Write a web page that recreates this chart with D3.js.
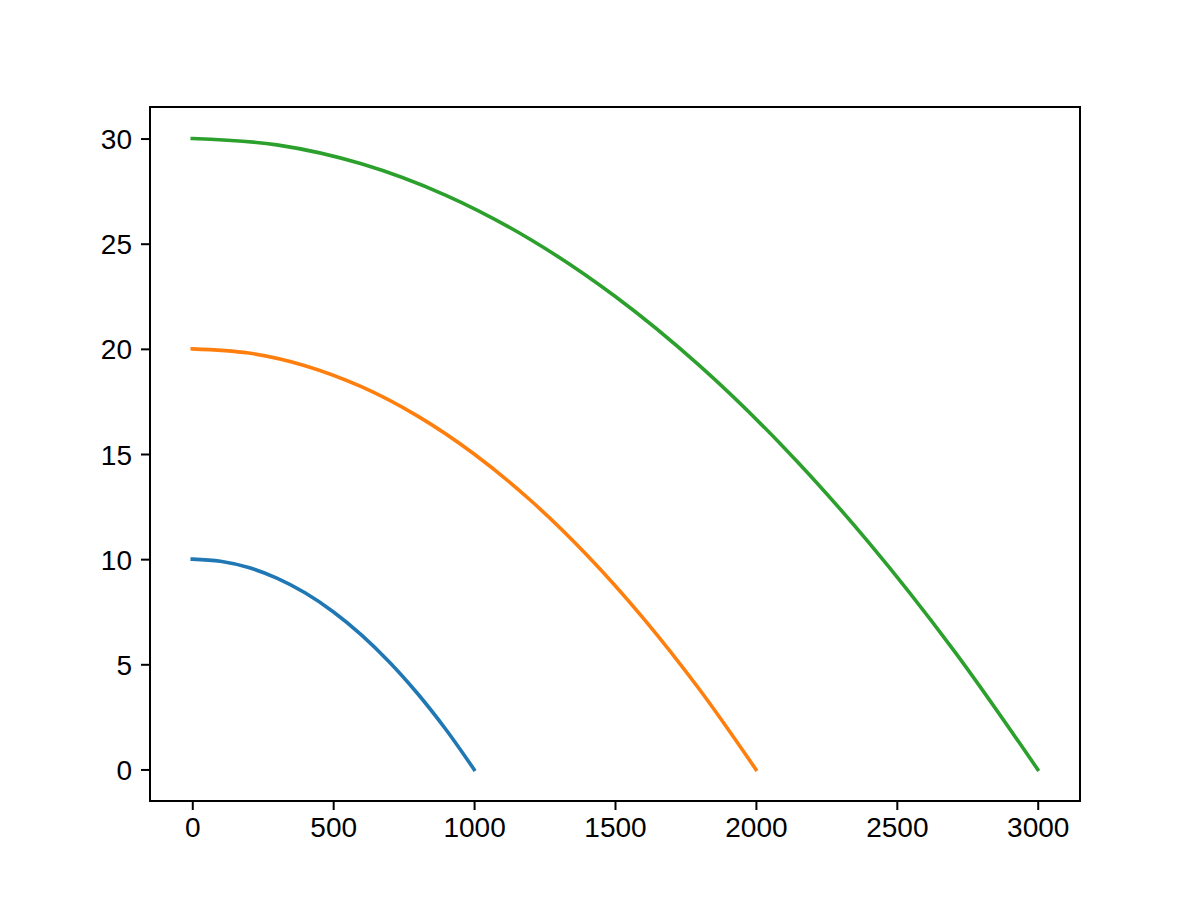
<!DOCTYPE html>
<html>
<head>
<meta charset="utf-8">
<script src="https://cdn.jsdelivr.net/npm/d3@7"></script>
<style>
  html, body { margin: 0; padding: 0; background: #fff; }
  svg { display: block; }
  .tick text { font-family: "Liberation Sans", Arial, sans-serif; }
</style>
</head>
<body>
<svg id="chart" width="1200" height="900"></svg>
<script>
// ---- data ----
const xBlue   = [0, 100, 200, 300, 400, 500, 600, 700, 800, 900, 1000];
const yBlue   = [10, 9.9, 9.6, 9.1, 8.4, 7.5, 6.4, 5.1, 3.6, 1.9, 0];
const xOrange = [0, 200, 400, 600, 800, 1000, 1200, 1400, 1600, 1800, 2000];
const yOrange = [20, 19.8, 19.2, 18.2, 16.8, 15.0, 12.8, 10.2, 7.2, 3.8, 0];
const xGreen  = [0, 300, 600, 900, 1200, 1500, 1800, 2100, 2400, 2700, 3000];
const yGreen  = [30, 29.7, 28.8, 27.3, 25.2, 22.5, 19.2, 15.3, 10.8, 5.7, 0];
const seriesColors = ["#1f77b4", "#ff7f0e", "#2ca02c"];
const xTicks = [0, 500, 1000, 1500, 2000, 2500, 3000];
const yTicks = [0, 5, 10, 15, 20, 25, 30];

const series = [
  { xs: xBlue, ys: yBlue, color: seriesColors[0] },
  { xs: xOrange, ys: yOrange, color: seriesColors[1] },
  { xs: xGreen, ys: yGreen, color: seriesColors[2] }
];

const svg = d3.select("#chart");
const mLeft = 150, mRight = 1080, mTop = 107, mBottom = 801;

const x = d3.scaleLinear().domain([-150, 3150]).range([mLeft, mRight]);
const y = d3.scaleLinear().domain([-1.5, 31.5]).range([mBottom, mTop]);

const line = d3.line()
  .x(d => x(d[0]))
  .y(d => y(d[1]))
  .curve(d3.curveCatmullRom.alpha(0.5));

const plot = svg.append("g");
series.forEach(s => {
  const pts = s.xs.map((v, i) => [v, s.ys[i]]);
  plot.append("path")
    .datum(pts)
    .attr("fill", "none")
    .attr("stroke", s.color)
    .attr("stroke-width", 3.6)
    .attr("stroke-linecap", "square")
    .attr("d", line);
});

const fontSize = 28;

const xAxis = svg.append("g")
  .attr("transform", `translate(0,${mBottom})`)
  .call(d3.axisBottom(x).tickValues(xTicks).tickFormat(d3.format("d")).tickSize(9).tickPadding(7));
const yAxis = svg.append("g")
  .attr("transform", `translate(${mLeft},0)`)
  .call(d3.axisLeft(y).tickValues(yTicks).tickFormat(d3.format("d")).tickSize(9).tickPadding(9));

[xAxis, yAxis].forEach(a => {
  a.select(".domain").remove();
  a.selectAll(".tick line").attr("stroke", "#000").attr("stroke-width", 2);
  a.selectAll(".tick text").attr("font-size", fontSize).attr("fill", "#000");
});
yAxis.selectAll(".tick text").attr("dy", "0.36em");

// frame (spines)
svg.append("rect")
  .attr("x", mLeft).attr("y", mTop)
  .attr("width", mRight - mLeft).attr("height", mBottom - mTop)
  .attr("fill", "none").attr("stroke", "#000").attr("stroke-width", 2);
</script>
</body>
</html>
